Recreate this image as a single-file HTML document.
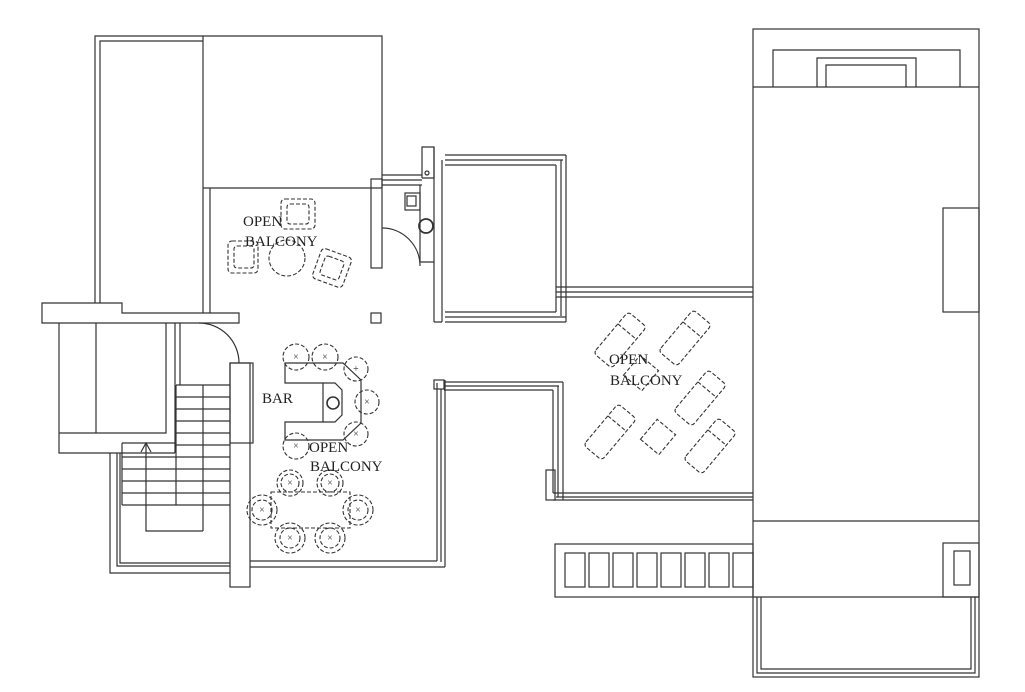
<!DOCTYPE html>
<html><head><meta charset="utf-8"><style>html,body{margin:0;padding:0;background:#fff}svg{display:block}</style></head>
<body>
<svg width="1025" height="692" viewBox="0 0 1025 692" xmlns="http://www.w3.org/2000/svg" font-family="Liberation Serif, serif">
<g fill="none" stroke="#333" stroke-width="1.2">
<path d="M95 303 V36 H382 V188"/>
<path d="M100 303 V41 H203"/>
<path d="M203 36 V313 M210 188 V313"/>
<path d="M203 188 H382"/>
<path d="M42 303 H122 V313 H239 V323 H42 Z"/>
<path d="M59 323 V453 H175 M59 433 H166 V323 M96 323 V433"/>
<path d="M175 323 V453"/>
<path d="M180 323 V385"/>
<path d="M199 323 A40 40 0 0 1 239 363"/>
<path d="M176 385 H230 M176 397 H230 M176 409 H230 M176 421 H230 M176 433 H230 M176 445 H230 M176 457 H230 M176 469 H230 M176 481 H230 M176 493 H230 M176 505 H230"/>
<path d="M122 443 H176 M122 457 H176 M122 469 H176 M122 481 H176 M122 493 H176 M122 505 H176"/>
<path d="M122 443 V505 M176 385 V505 M203 385 V531 M146 443 V531 H203"/>
<path d="M141 452 L146 443 L151 452"/>
<path d="M110 453 V573 H230 M117 453 V566 H230 M120 453 V563 H230"/>
<rect x="230" y="363" width="20" height="224"/>
<rect x="230" y="363" width="23" height="80"/>
<path d="M250 561 H437 M250 567 H445"/>
<path d="M437 383 V561 M441 389 V562 M445 380 V567"/>
<rect x="434" y="380" width="10" height="9"/>
<rect x="371" y="179" width="11" height="89"/>
<path d="M382 175 H422 M382 180 H422 M382 185 H422"/>
<path d="M422 178 V147 H434 V178 H422"/>
<path d="M434 147 V322 M442 160 V322 M434 322 H442"/>
<path d="M420 185 V262 H434"/>
<rect x="405" y="193" width="15" height="17"/>
<rect x="407" y="196" width="9" height="10"/>
<circle cx="426" cy="226" r="7" stroke-width="1.8"/>
<circle cx="427" cy="173" r="2"/>
<path d="M382 228 A38 38 0 0 1 420 266"/>
<rect x="371" y="313" width="10" height="10"/>
<path d="M445 155 H566 M445 160 H563 M445 165 H556"/>
<path d="M556 165 V312 M561 160 V316 M566 155 V322"/>
<path d="M445 312 H556 M445 317 H566 M445 322 H566"/>
<path d="M556 287 H753 M556 292 H753 M556 297 H753"/>
<path d="M444 382 H563 M444 386 H559 M444 390 H553"/>
<path d="M553 390 V493 M558 386 V497 M563 382 V500"/>
<path d="M553 493 H753 M556 497 H753 M553 500 H753"/>
<rect x="546" y="470" width="9" height="30"/>
<rect x="555" y="544" width="198" height="53"/>
<g>
<rect x="565" y="553" width="20" height="34"/><rect x="589" y="553" width="20" height="34"/>
<rect x="613" y="553" width="20" height="34"/><rect x="637" y="553" width="20" height="34"/>
<rect x="661" y="553" width="20" height="34"/><rect x="685" y="553" width="20" height="34"/>
<rect x="709" y="553" width="20" height="34"/><rect x="733" y="553" width="20" height="34"/>
</g>
<rect x="753" y="29" width="226" height="648"/>
<path d="M753 87 H979 M753 521 H979 M753 597 H979"/>
<path d="M773 87 V50 H960 V87"/>
<path d="M817 87 V58 H916 V87 M826 87 V65 H906 V87"/>
<rect x="943" y="208" width="36" height="104"/>
<rect x="943" y="543" width="36" height="54"/>
<rect x="954" y="551" width="16" height="34"/>
<path d="M757 597 V673 H975 V597 M761 597 V669 H971 V597"/>
<path d="M285 363 H343 L361 380 V423 L343 440 H285 V422 H323 V383 H285 Z"/>
<path d="M323 383 H335 L342 390 V415 L335 422 H323"/>
<circle cx="333" cy="403" r="6" stroke-width="1.6"/>
</g>
<g fill="none" stroke="#333" stroke-width="1.1" stroke-dasharray="4 2">
<circle cx="296" cy="357" r="13"/><circle cx="325" cy="357" r="13"/>
<circle cx="356" cy="369" r="12"/><circle cx="367" cy="402" r="12"/>
<circle cx="356" cy="434" r="12"/><circle cx="296" cy="446" r="13"/>
<rect x="271" y="492" width="79" height="36"/>
<circle cx="290" cy="483" r="13"/><circle cx="330" cy="483" r="13"/>
<circle cx="262" cy="510" r="15"/><circle cx="358" cy="510" r="15"/>
<circle cx="290" cy="538" r="15"/><circle cx="330" cy="538" r="15"/>
<circle cx="290" cy="483" r="9"/><circle cx="330" cy="483" r="9"/>
<circle cx="262" cy="510" r="10"/><circle cx="358" cy="510" r="10"/>
<circle cx="290" cy="538" r="10"/><circle cx="330" cy="538" r="10"/>
<rect x="281" y="199" width="34" height="30" rx="4"/>
<rect x="287" y="204" width="22" height="20" rx="3"/>
<rect x="228" y="241" width="30" height="32" rx="4"/>
<rect x="234" y="246" width="20" height="22" rx="3"/>
<circle cx="287" cy="258" r="18"/>
<g transform="rotate(20 332 268)"><rect x="316" y="252" width="32" height="32" rx="4"/><rect x="322" y="258" width="20" height="20" rx="3"/></g>
<g transform="rotate(-50 620 340)"><rect x="593" y="328" width="54" height="24" rx="4"/><path d="M631 328 V352"/></g>
<g transform="rotate(-50 685 338)"><rect x="658" y="326" width="54" height="24" rx="4"/><path d="M696 326 V350"/></g>
<g transform="rotate(-50 700 398)"><rect x="673" y="386" width="54" height="24" rx="4"/><path d="M711 386 V410"/></g>
<g transform="rotate(-50 610 432)"><rect x="583" y="420" width="54" height="24" rx="4"/><path d="M621 420 V444"/></g>
<g transform="rotate(-50 710 446)"><rect x="683" y="434" width="54" height="24" rx="4"/><path d="M721 434 V458"/></g>
<g transform="rotate(-50 658 437)"><rect x="645" y="425" width="26" height="24"/></g>
<g transform="rotate(-50 641 373)"><rect x="628" y="361" width="26" height="24"/></g>
</g>
<g fill="#333" font-size="10" text-anchor="middle">
<text x="296" y="360">×</text><text x="325" y="360">×</text><text x="356" y="372">+</text><text x="367" y="405">×</text><text x="356" y="437">×</text><text x="296" y="449">×</text>
<text x="290" y="486">×</text><text x="330" y="486">×</text><text x="262" y="513">×</text><text x="358" y="513">×</text><text x="290" y="541">×</text><text x="330" y="541">×</text>
</g>
<g fill="#222" font-size="15">
<text x="243" y="226">OPEN</text><text x="245" y="246">BALCONY</text>
<text x="262" y="403">BAR</text>
<text x="309" y="452">OPEN</text><text x="310" y="471">BALCONY</text>
<text x="609" y="364">OPEN</text><text x="610" y="385">BALCONY</text>
</g>
</svg>
</body></html>
